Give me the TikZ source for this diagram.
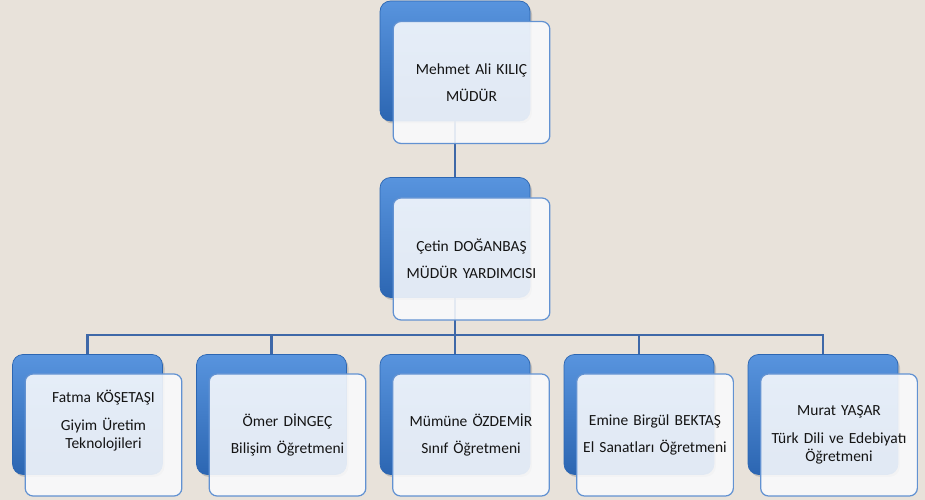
\documentclass[tikz,border=0pt]{standalone}
\usepackage{fontspec}
\usepackage{tikz}
\usetikzlibrary{positioning,shadows,backgrounds}
\newfontfamily\cardfont{Carlito}
\usepackage{xcolor}
\definecolor{orgbg}{RGB}{232,226,218}
\definecolor{orgblue}{RGB}{61,124,207}
\definecolor{orgbluetop}{RGB}{88,148,222}
\definecolor{orgbluedark}{RGB}{44,102,178}
\definecolor{orgedge}{RGB}{98,146,210}
\definecolor{orgline}{RGB}{62,104,168}
\definecolor{orgcard}{RGB}{250,251,253}
\tikzstyle{link} = [line width=1.6pt, color=orgline]
\tikzstyle{backbox} = [rectangle, rounded corners=6pt, minimum width=3cm, minimum height=2.4cm, top color=orgbluetop, bottom color=orgbluedark, draw=orgbluedark, thin, drop shadow={opacity=0.35, shadow xshift=0.04cm, shadow yshift=-0.05cm}]
\tikzstyle{card} = [rectangle, rounded corners=4.5pt, minimum width=3.02cm, minimum height=2.44cm, text width=2.9cm, align=center, draw=orgedge, line width=0.7pt, fill=orgcard, fill opacity=0.88, text opacity=1, font=\cardfont\fontsize{8.8}{10.6}\selectfont, text=black!92]

\begin{document}
\begin{tikzpicture}
\useasboundingbox (0,0) rectangle (18.5,10);
% Blue back boxes
\node (mudur-back) [backbox] at (9.1,8.78) {};
\node (yard-back) [backbox] at (9.1,5.25) {};
\node (fatma-back) [backbox] at (1.75,1.71) {};
\node (omer-back) [backbox] at (5.43,1.71) {};
\node (mumune-back) [backbox] at (9.1,1.71) {};
\node (emine-back) [backbox] at (12.78,1.71) {};
\node (murat-back) [backbox] at (16.46,1.71) {};
\coordinate (bus) at (9.1,3.3);

% Name cards
\node (mudur) [card, xshift=0.33cm, yshift=-0.43cm] at (mudur-back) {Mehmet Ali KILIÇ\\[5pt]MÜDÜR};
\node (yard) [card, xshift=0.33cm, yshift=-0.43cm] at (yard-back) {Çetin DOĞANBAŞ\\[5pt]MÜDÜR YARDIMCISI};
\node (fatma) [card, xshift=0.32cm, yshift=-0.41cm] at (fatma-back) {Fatma KÖŞETAŞI\\[5pt]Giyim Üretim\\Teknolojileri\\[7pt]\mbox{}};
\node (omer) [card, xshift=0.32cm, yshift=-0.41cm] at (omer-back) {Ömer DİNGEÇ\\[5pt]Bilişim Öğretmeni};
\node (mumune) [card, xshift=0.32cm, yshift=-0.41cm] at (mumune-back) {Mümüne ÖZDEMİR\\[5pt]Sınıf Öğretmeni};
\node (emine) [card, xshift=0.32cm, yshift=-0.41cm] at (emine-back) {Emine Birgül BEKTAŞ\\[5pt]El Sanatları Öğretmeni};
\node (murat) [card, xshift=0.32cm, yshift=-0.41cm] at (murat-back) {Murat YAŞAR\\[5pt]Türk Dili ve Edebiyatı\\Öğretmeni};

% Connectors behind the boxes
\begin{scope}[on background layer]
\fill[orgbg] (0,0) rectangle (18.5,10);
\draw[link] (mudur-back.center) -- (yard-back.center);
\draw[link] (yard-back.center) -- (bus);
\draw[link] (fatma-back.center) |- (bus);
\draw[link] (omer-back.center) |- (bus);
\draw[link] (mumune-back.center) -- (bus);
\draw[link] (emine-back.center) |- (bus);
\draw[link] (murat-back.center) |- (bus);
\end{scope}
\end{tikzpicture}
\end{document}
